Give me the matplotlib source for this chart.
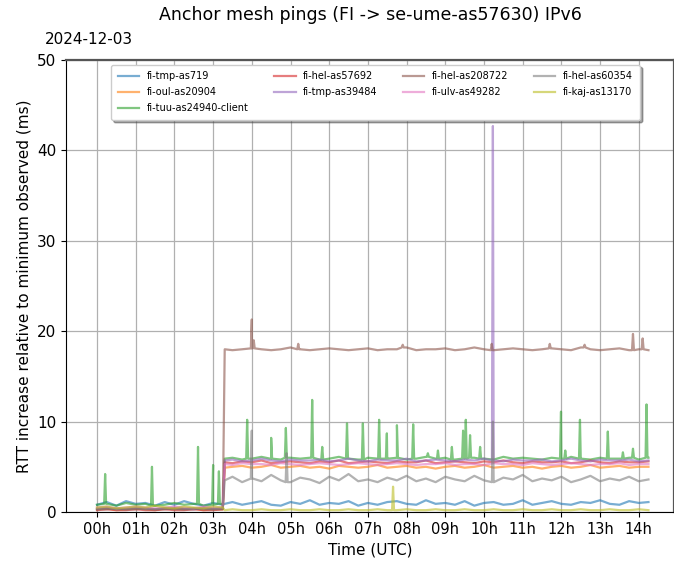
import numpy as np
import matplotlib
matplotlib.use("Agg")
import matplotlib.pyplot as plt

# sample times in hours (UTC), 15 min steps plus the moment of the step change
hours = np.sort(np.append(np.arange(0, 14.26, 0.25), 3.3))

names = ["fi-tmp-as719", "fi-oul-as20904", "fi-tuu-as24940-client",
         "fi-hel-as57692", "fi-tmp-as39484", "fi-hel-as208722",
         "fi-ulv-as49282", "fi-hel-as60354", "fi-kaj-as13170"]

tmp_as719 = [0.8, 1.1, 0.7, 1.2, 0.9, 1.0, 0.7, 1.1, 0.8, 1.2, 0.9, 0.7, 1.0, 0.8,
             0.9, 1.1, 0.8, 1.0, 1.2, 0.8, 0.7, 1.1, 0.9, 1.3, 0.8, 1.0, 0.9, 1.2, 0.7,
             1.0, 0.8, 1.1, 1.2, 0.9, 0.8, 1.3, 0.9, 1.0, 0.8, 1.2, 0.7, 1.0, 1.1, 0.8,
             0.9, 1.3, 0.8, 1.0, 1.2, 0.9, 0.8, 1.1, 1.0, 1.3, 0.9, 0.8, 1.2, 1.0, 1.1]
oul_as20904 = [0.3, 0.4, 0.2, 0.3, 0.4, 0.3, 0.2, 0.4, 0.3, 0.3, 0.4, 0.2, 0.3, 0.3,
               4.9, 5.0, 5.1, 4.9, 5.0, 5.2, 4.9, 5.0, 5.1, 4.9, 5.0, 4.8, 5.1, 5.0, 4.9,
               5.0, 5.2, 4.9, 5.0, 5.1, 4.9, 5.0, 4.8, 5.0, 5.1, 4.9, 5.0, 5.2, 4.9, 5.0,
               5.1, 4.9, 5.0, 4.8, 5.0, 5.1, 4.9, 5.0, 5.2, 4.9, 5.0, 5.1, 4.9, 5.0, 5.0]
tuu_as24940 = [0.8, 0.9, 0.7, 1.0, 0.8, 0.9, 0.7, 0.8, 1.0, 0.8, 0.9, 0.7, 0.8, 0.9,
               5.9, 6.0, 5.8, 5.9, 6.1, 5.9, 5.8, 6.0, 5.9, 6.0, 5.8, 5.9, 6.1, 5.9, 5.8,
               6.0, 5.9, 5.9, 6.0, 5.8, 5.9, 6.1, 5.9, 6.0, 5.8, 5.9, 6.0, 5.9, 5.8, 6.1,
               5.9, 6.0, 5.9, 5.8, 6.0, 5.9, 6.1, 5.9, 5.8, 6.0, 5.9, 5.9, 6.0, 5.8, 6.0]
hel_as57692 = [0.2, 0.3, 0.2, 0.2, 0.3, 0.2, 0.2, 0.3, 0.2, 0.2, 0.3, 0.2, 0.2, 0.3,
               5.5, 5.4, 5.6, 5.5, 5.7, 5.4, 5.5, 5.6, 5.5, 5.4, 5.6, 5.5, 5.7, 5.4, 5.5,
               5.6, 5.5, 5.4, 5.6, 5.5, 5.5, 5.7, 5.4, 5.5, 5.6, 5.5, 5.4, 5.6, 5.5, 5.7,
               5.5, 5.4, 5.6, 5.5, 5.5, 5.6, 5.4, 5.5, 5.7, 5.5, 5.4, 5.6, 5.5, 5.5, 5.6]
tmp_as39484 = [0.4, 0.5, 0.3, 0.4, 0.5, 0.4, 0.3, 0.4, 0.5, 0.4, 0.3, 0.5, 0.4, 0.4,
               5.7, 5.8, 5.6, 5.7, 5.9, 5.7, 5.6, 5.8, 5.7, 5.7, 5.8, 5.6, 5.7, 5.9, 5.7,
               5.6, 5.8, 5.7, 5.7, 5.9, 5.6, 5.7, 5.8, 5.7, 5.6, 5.8, 5.7, 5.9, 5.7, 5.6,
               5.8, 5.7, 5.7, 5.8, 5.6, 5.7, 5.9, 5.7, 5.6, 5.8, 5.7, 5.7, 5.8, 5.6, 5.7]
hel_as208722 = [0.3, 0.3, 0.4, 0.3, 0.3, 0.4, 0.3, 0.3, 0.4, 0.3, 0.3, 0.4, 0.3, 0.3,
                18.0, 17.9, 18.0, 18.1, 18.0, 17.9, 18.0, 18.2, 18.0, 17.9, 18.0, 18.1, 18.0, 17.9, 18.0,
                18.1, 17.9, 18.0, 18.0, 18.2, 17.9, 18.0, 18.0, 18.1, 17.9, 18.0, 18.2, 18.0, 17.9, 18.0,
                18.1, 18.0, 17.9, 18.0, 18.1, 18.0, 17.9, 18.2, 18.0, 17.9, 18.0, 18.1, 17.9, 18.0, 17.9]
ulv_as49282 = [0.5, 0.6, 0.4, 0.5, 0.6, 0.5, 0.4, 0.5, 0.6, 0.5, 0.4, 0.6, 0.5, 0.5,
               5.3, 5.2, 5.4, 5.3, 5.3, 5.2, 5.4, 5.3, 5.2, 5.3, 5.4, 5.3, 5.2, 5.3, 5.4,
               5.3, 5.2, 5.3, 5.4, 5.3, 5.2, 5.3, 5.3, 5.4, 5.2, 5.3, 5.3, 5.2, 5.4, 5.3,
               5.3, 5.2, 5.4, 5.3, 5.2, 5.3, 5.4, 5.3, 5.2, 5.3, 5.3, 5.4, 5.2, 5.3, 5.3]
hel_as60354 = [0.3, 0.4, 0.3, 0.3, 0.4, 0.3, 0.3, 0.4, 0.3, 0.3, 0.4, 0.3, 0.3, 0.4,
               3.5, 3.9, 3.3, 3.7, 3.4, 4.1, 3.5, 3.3, 3.8, 3.6, 3.2, 3.9, 3.5, 4.2, 3.4,
               3.6, 3.3, 3.8, 3.5, 4.0, 3.4, 3.7, 3.3, 3.9, 3.6, 3.4, 4.0, 3.5, 3.3, 3.8,
               3.6, 4.1, 3.4, 3.7, 3.5, 3.9, 3.3, 3.6, 4.0, 3.4, 3.7, 3.5, 3.9, 3.4, 3.6]
kaj_as13170 = [0.5, 0.6, 0.4, 0.5, 0.6, 0.5, 0.7, 0.5, 0.4, 0.6, 0.5, 0.4, 0.6, 0.5,
               0.2, 0.3, 0.2, 0.2, 0.3, 0.2, 0.2, 0.3, 0.2, 0.2, 0.3, 0.2, 0.2, 0.3, 0.2,
               0.2, 0.3, 0.2, 0.2, 0.3, 0.2, 0.2, 0.3, 0.2, 0.2, 0.3, 0.2, 0.2, 0.3, 0.2,
               0.2, 0.3, 0.2, 0.2, 0.3, 0.2, 0.2, 0.3, 0.2, 0.2, 0.3, 0.2, 0.2, 0.3, 0.2]

# short spikes: (hour, value)
tuu_spike_t = [0.21, 1.42, 2.61, 3.0, 3.15, 3.88, 4.5, 4.88, 5.56, 5.82, 6.46, 6.87,
               7.29, 7.49, 7.75, 8.17, 8.55, 8.81, 9.17, 9.46, 9.53, 9.64, 9.9,
               11.99, 12.1, 12.48, 13.2, 13.59, 13.85, 14.2]
tuu_spike_v = [4.2, 5.0, 7.2, 5.2, 4.5, 10.2, 8.2, 9.3, 12.4, 7.2, 9.8, 9.8,
               10.2, 8.7, 9.6, 9.7, 6.5, 6.8, 7.2, 9.0, 10.2, 8.5, 7.2,
               11.1, 6.8, 10.2, 8.9, 6.6, 7.0, 11.9]
tmp39484_spike_t = [10.23]
tmp39484_spike_v = [42.7]
hel208722_spike_t = [4.0, 4.05, 5.2, 7.9, 10.2, 11.7, 12.6, 13.85, 14.1]
hel208722_spike_v = [21.3, 19.0, 18.6, 18.5, 18.6, 18.6, 18.5, 19.7, 19.2]
hel60354_spike_t = [4.0, 4.9, 10.23]
hel60354_spike_v = [9.0, 6.5, 10.0]
kaj_spike_t = [7.65]
kaj_spike_v = [2.8]

colors = ["tab:blue", "tab:orange", "tab:green", "tab:red", "tab:purple",
          "tab:brown", "tab:pink", "tab:gray", "tab:olive"]


def with_spikes(base, spike_t, spike_v, half=0.025):
    t = list(hours)
    v = list(base)
    for st, sv in zip(spike_t, spike_v):
        level = base[int(np.argmin(np.abs(hours - st)))]
        t += [st - half, st, st + half]
        v += [level, sv, level]
    order = np.argsort(t)
    return np.array(t)[order], np.array(v)[order]


series = [
    (tmp_as719, [], []),
    (oul_as20904, [], []),
    (tuu_as24940, tuu_spike_t, tuu_spike_v),
    (hel_as57692, [], []),
    (tmp_as39484, tmp39484_spike_t, tmp39484_spike_v),
    (hel_as208722, hel208722_spike_t, hel208722_spike_v),
    (ulv_as49282, [], []),
    (hel_as60354, hel60354_spike_t, hel60354_spike_v),
    (kaj_as13170, kaj_spike_t, kaj_spike_v),
]

fig = plt.figure(figsize=(6.74, 5.63), dpi=100)
ax = fig.add_axes([0.098, 0.0906, 0.902, 0.8028])

for name, color, (base, st, sv) in zip(names, colors, series):
    t, v = with_spikes(base, st, sv)
    ax.plot(t, v, color=color, alpha=0.6, lw=1.6, label=name)

ax.set_xlim(-0.8, 14.91)
ax.set_ylim(0, 50)
ax.set_xticks(range(15))
ax.set_xticklabels([f"{h:02d}h" for h in range(15)], fontsize=10.5)
ax.set_yticks(range(0, 51, 10))
ax.tick_params(axis="y", labelsize=11)
ax.grid(True, color="#b0b0b0", lw=0.9)
for side in ["top", "right"]:
    ax.spines[side].set_linewidth(1.6)
    ax.spines[side].set_color("#555555")
ax.set_xlabel("Time (UTC)", fontsize=11)
ax.set_ylabel("RTT increase relative to minimum observed (ms)", fontsize=11)
ax.set_title("Anchor mesh pings (FI -> se-ume-as57630) IPv6", fontsize=12.5, pad=29)
fig.text(0.066, 0.929, "2024-12-03", fontsize=11, va="center")

ax.legend(loc="upper center", bbox_to_anchor=(0.509, 0.994), ncol=4,
          fontsize=7, shadow=True, framealpha=1, handlelength=2.2,
          columnspacing=2.6, labelspacing=0.6, borderpad=0.7, borderaxespad=0.2)

fig.savefig("out.png", dpi=100)
